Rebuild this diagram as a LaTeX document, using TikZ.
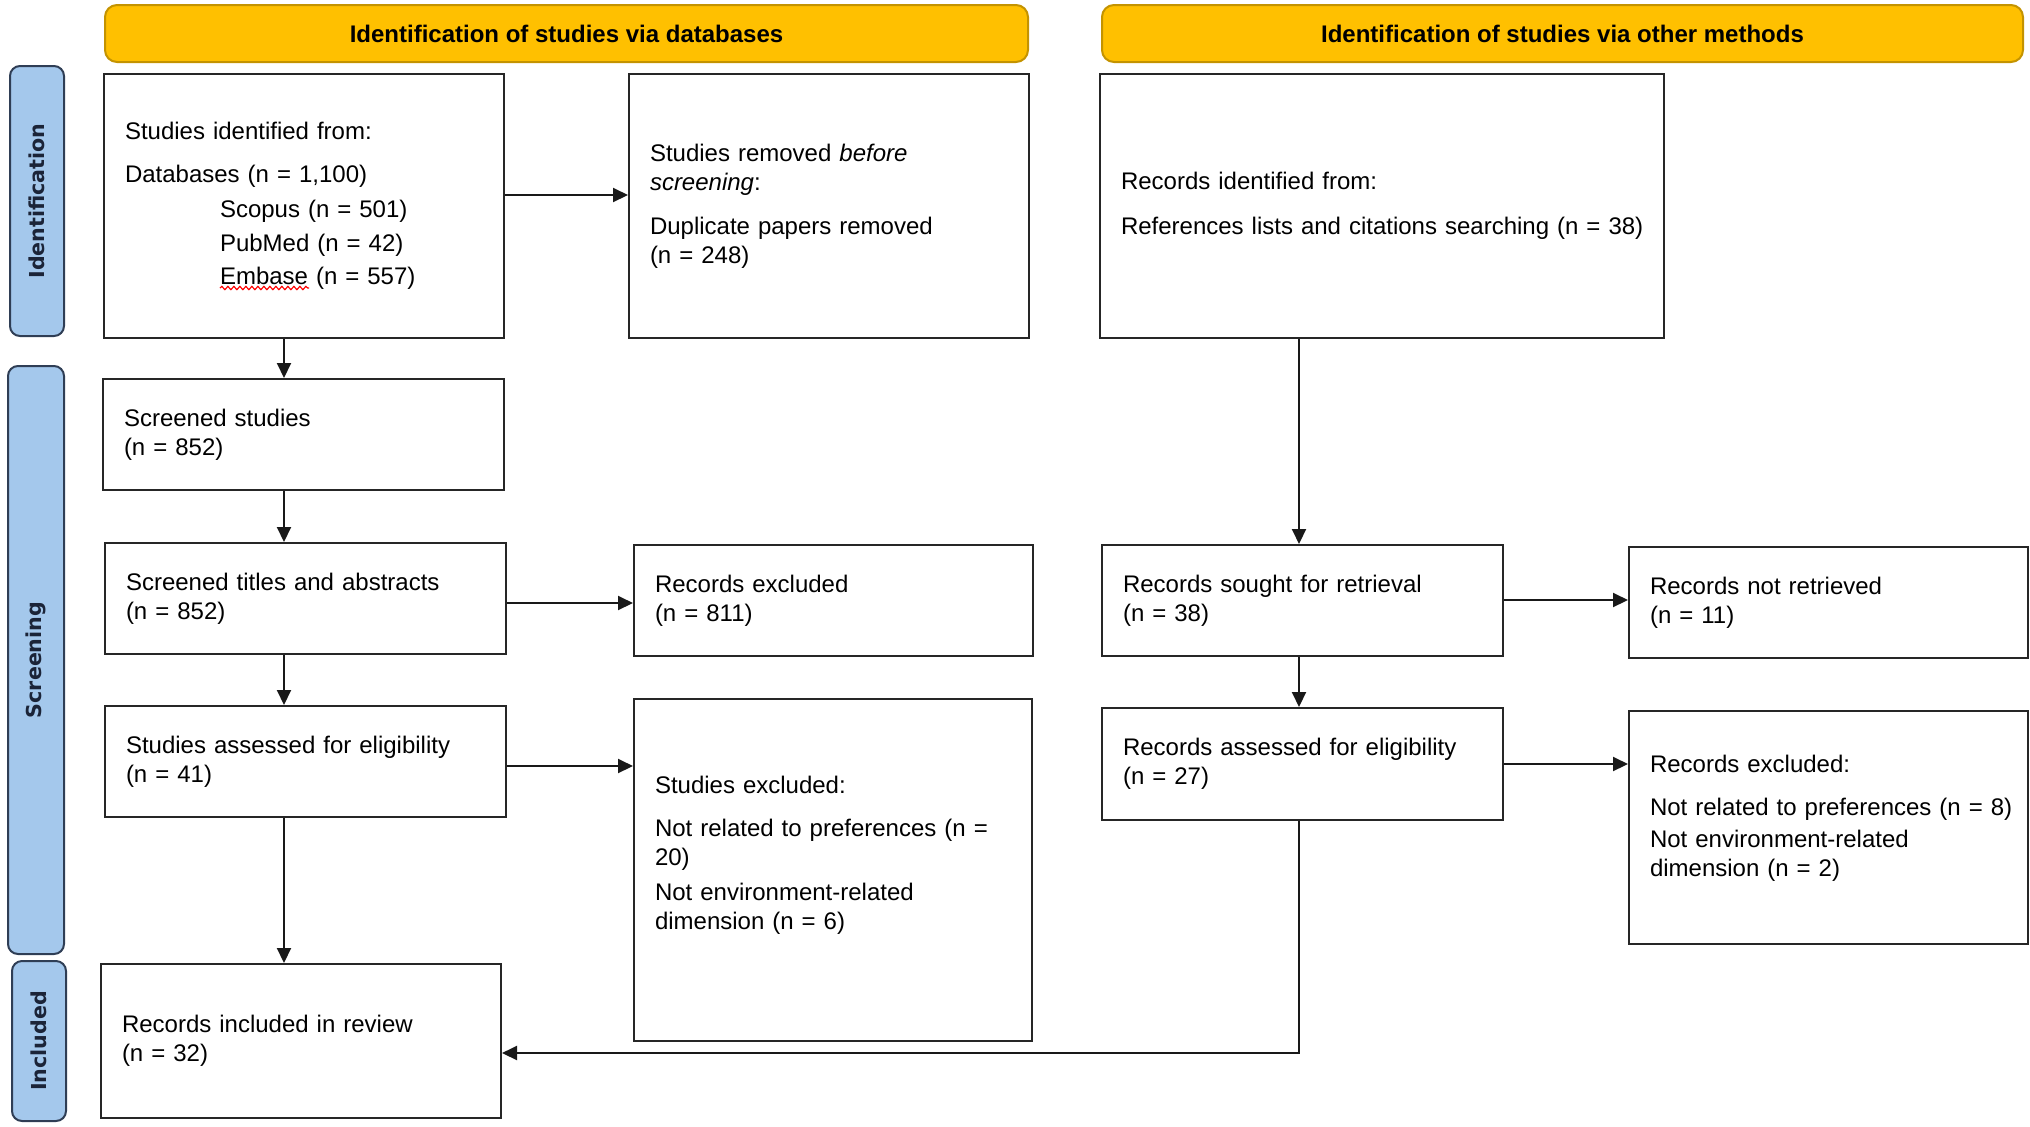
\documentclass[tikz,border=0pt]{standalone}
\usepackage{fontspec}
\setmainfont{Liberation Sans}
\newfontfamily\sidefont{DejaVu Sans}
\usetikzlibrary{arrows.meta,decorations.pathmorphing}
\definecolor{bannerfill}{HTML}{FFC000}
\definecolor{bannerdraw}{HTML}{C49300}
\definecolor{sidefill}{HTML}{A4C8EC}
\definecolor{sidedraw}{HTML}{2F3E55}
\definecolor{sidetext}{HTML}{1B2438}
\begin{document}
\begin{tikzpicture}[x=0.5pt,y=-0.5pt,
  box/.style={draw=black!85, line width=1pt, inner xsep=0pt, inner ysep=2pt, align=left, fill=white,
    font=\fontsize{12}{14.5}\selectfont},
  banner/.style={draw=bannerdraw, line width=1pt, fill=bannerfill, rounded corners=6pt,
    font=\bfseries\fontsize{12}{14}\selectfont, minimum height=28.5pt},
  side/.style={draw=sidedraw, line width=1pt, fill=sidefill, rounded corners=5pt, rotate=90,
    font=\sidefont\bfseries\fontsize{10.3}{12}\selectfont, text=sidetext},
  arr/.style={draw=black!90, line width=1pt, -{Triangle[length=7.5pt,width=7pt]}}]

\useasboundingbox (0,0) rectangle (2030,1126);

% banners
\node[banner, minimum width=461.5pt] (bdb) at (566.5,33.5) {Identification of studies via databases};
\node[banner, minimum width=460.5pt] (bot) at (1562.5,33.5) {Identification of studies via other methods};

% side labels
\node[side, minimum width=135pt, minimum height=27pt] (sid) at (37,201) {Identification};
\node[side, minimum width=294pt, minimum height=28pt] (ssc) at (36,660) {Screening};
\node[side, minimum width=80pt, minimum height=27pt] (sin) at (39,1041) {Included};

% boxes
\node[box, minimum width=200pt, minimum height=132pt, text width=179pt] (idb) at (304,206)
  {Studies identified from:\\[7pt]
   Databases (n = 1,100)\\[3pt]
   \hspace*{47.5pt}Scopus (n = 501)\\[2.5pt]
   \hspace*{47.5pt}PubMed (n = 42)\\[2pt]
   \hspace*{47.5pt}Embase (n = 557)};
\node[box, minimum width=200pt, minimum height=132pt, text width=179pt] (rem) at (829,206)
  {Studies removed \textit{before}\\
   \textit{screening}:\\[7.5pt]
   Duplicate papers removed\\
   (n = 248)};
\node[box, minimum width=282pt, minimum height=132pt, text width=261pt] (oth) at (1382,206)
  {Records identified from:\\[8pt]
   \mbox{References lists and citations searching (n = 38)}};

\node[box, minimum width=200.5pt, minimum height=55.5pt, text width=179.5pt] (scr) at (303.5,434.5)
  {Screened studies\\ (n = 852)};
\node[box, minimum width=200.5pt, minimum height=55.5pt, text width=179.5pt] (tia) at (305.5,598.5)
  {Screened titles and abstracts\\ (n = 852)};
\node[box, minimum width=199.5pt, minimum height=55.5pt, text width=178.5pt] (rex) at (833.5,600.5)
  {Records excluded\\ (n = 811)};
\node[box, minimum width=200.5pt, minimum height=55.5pt, text width=179.5pt] (sou) at (1302.5,600.5)
  {Records sought for retrieval\\ (n = 38)};
\node[box, minimum width=199.5pt, minimum height=55.5pt, text width=178.5pt] (nre) at (1828.5,602.5)
  {Records not retrieved\\ (n = 11)};
\node[box, minimum width=200.5pt, minimum height=55.5pt, text width=179.5pt] (ase) at (305.5,761.5)
  {Studies assessed for eligibility\\ (n = 41)};
\node[box, minimum width=199pt, minimum height=171pt, text width=178pt] (sex) at (833,870)
  {Studies excluded:\\[7pt]
   \mbox{Not related to preferences (n =}\\
   20)\\[3pt]
   Not environment-related\\
   dimension (n = 6)\rule[-17pt]{0pt}{17pt}};
\node[box, minimum width=200.5pt, minimum height=56pt, text width=179.5pt] (rae) at (1302.5,764)
  {Records assessed for eligibility\\ (n = 27)};
\node[box, minimum width=199.5pt, minimum height=116.5pt, text width=178.5pt] (rx2) at (1828.5,827.5)
  {Records excluded:\\[7pt]
   \mbox{Not related to preferences (n = 8)}\\[1.5pt]
   Not environment-related\\
   dimension (n = 2)\rule[-12pt]{0pt}{12pt}};
\node[box, minimum width=200pt, minimum height=77pt, text width=179pt] (inc) at (301,1041)
  {Records included in review\\ (n = 32)};

% spell-check underline
\draw[red, line width=0.6pt, decorate, decoration={snake, amplitude=0.8pt, segment length=3pt}]
  (220,288) -- (309,288);

% connectors
\coordinate (lx) at (284,0);
\coordinate (rx) at (1299,0);
\coordinate (h1) at (0,195);
\coordinate (h2) at (0,603);
\coordinate (h3) at (0,766);
\coordinate (h4) at (0,600);
\coordinate (h5) at (0,764);
\coordinate (h6) at (0,1053);

\draw[arr] (idb.south -| lx) -- (scr.north -| lx);
\draw[arr] (scr.south -| lx) -- (tia.north -| lx);
\draw[arr] (tia.south -| lx) -- (ase.north -| lx);
\draw[arr] (ase.south -| lx) -- (inc.north -| lx);
\draw[arr] (oth.south -| rx) -- (sou.north -| rx);
\draw[arr] (sou.south -| rx) -- (rae.north -| rx);

\draw[arr] (idb.east |- h1) -- (rem.west |- h1);
\draw[arr] (tia.east |- h2) -- (rex.west |- h2);
\draw[arr] (ase.east |- h3) -- (sex.west |- h3);
\draw[arr] (sou.east |- h4) -- (nre.west |- h4);
\draw[arr] (rae.east |- h5) -- (rx2.west |- h5);
\draw[arr] (rae.south -| rx) |- (inc.east |- h6);
\end{tikzpicture}
\end{document}
